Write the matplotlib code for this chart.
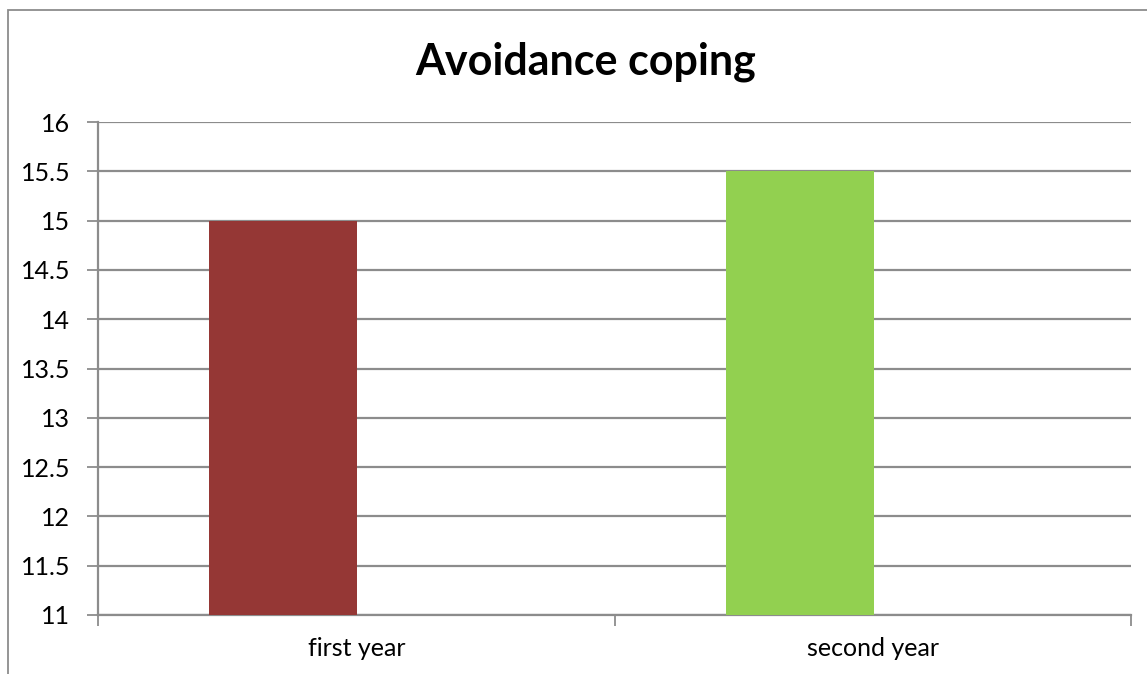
import matplotlib
matplotlib.use("Agg")
import matplotlib.pyplot as plt
from matplotlib.patches import Rectangle

categories = ["first year", "second year"]
values = [15.0, 15.5]
colors = ["#953735", "#92D050"]
yticks = [11, 11.5, 12, 12.5, 13, 13.5, 14, 14.5, 15, 15.5, 16]
title = "Avoidance coping"

plt.rcParams['font.family'] = ['Lato', 'DejaVu Sans']

fig = plt.figure(figsize=(11.47, 6.74), dpi=100)
ax = fig.add_axes([98/1147, 1 - 615/674, (1131-98)/1147, (615-122)/674])

grid_c = "#8c8c8c"
offset = -0.1413
width = 0.2866
x = list(range(len(categories)))
ax.bar([i + offset for i in x], [v - 11 for v in values], bottom=11, width=width,
       color=colors, zorder=3)

ax.set_xlim(-0.5, len(categories) - 0.5)
ax.set_ylim(11, 16)
ax.set_yticks(yticks)
ax.set_yticklabels([f"{t:g}" for t in yticks])
ax.yaxis.grid(True, color=grid_c, linewidth=1.6, zorder=0)
ax.set_axisbelow(True)

ax.set_xticks(x)
ax.set_xticklabels(categories)
ax.set_xticks([i - 0.5 for i in range(len(categories) + 1)], minor=True)
ax.tick_params(axis='x', which='major', length=0, pad=16, labelsize=18)
ax.tick_params(axis='x', which='minor', length=8, width=1.3, color=grid_c)
ax.tick_params(axis='y', length=8, width=1.3, color=grid_c, pad=12, labelsize=18)

for s in ["top", "right"]:
    ax.spines[s].set_visible(False)
for s in ["left", "bottom"]:
    ax.spines[s].set_color(grid_c)
    ax.spines[s].set_linewidth(1.6)

fig.text(586/1147, 1 - 62/674, title, ha="center", va="center",
         fontsize=31, fontweight="bold")

# chart border
fig.patches.append(Rectangle((8/1147, -0.05), 1.2, 1 - 10/674 + 0.05,
                             transform=fig.transFigure, fill=False,
                             edgecolor="#8c8c8c", linewidth=1.3))

fig.savefig("out.png", dpi=100)
